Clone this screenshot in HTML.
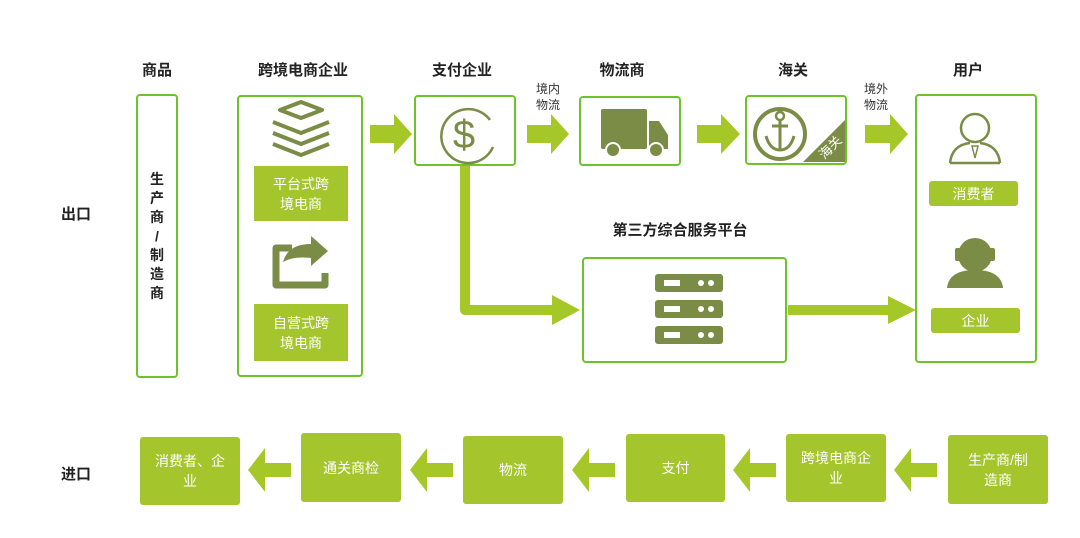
<!DOCTYPE html>
<html><head><meta charset="utf-8"><style>
*{margin:0;padding:0;box-sizing:border-box}
body{width:1080px;height:538px;background:#fff;position:relative;overflow:hidden;font-family:"Liberation Sans","Noto Sans CJK SC",sans-serif}
.t{position:absolute;font-weight:bold;font-size:15px;color:#222;transform:translateX(-50%);white-space:nowrap}
.b{position:absolute;border:2px solid #6cc42a;border-radius:4px;background:#fff}
.f{position:absolute;background:#a4c52c;color:#fff;font-size:14px;display:flex;align-items:center;justify-content:center;text-align:center;line-height:20px;border-radius:3px}
.s{position:absolute;font-size:12px;color:#333;line-height:16px}
svg{position:absolute;left:0;top:0}
</style></head><body>
<div class="t" style="left:157px;top:59px">商品</div>
<div class="t" style="left:303px;top:59px">跨境电商企业</div>
<div class="t" style="left:462px;top:59px">支付企业</div>
<div class="t" style="left:622px;top:59px">物流商</div>
<div class="t" style="left:793px;top:59px">海关</div>
<div class="t" style="left:968px;top:59px">用户</div>
<div class="t" style="left:680px;top:219px">第三方综合服务平台</div>
<div class="t" style="left:76px;top:203px">出口</div>
<div class="t" style="left:76px;top:463px">进口</div>
<div class="s" style="left:536px;top:81px">境内<br>物流</div>
<div class="s" style="left:864px;top:81px">境外<br>物流</div>

<div class="b" style="left:136px;top:94px;width:42px;height:284px"></div>
<div style="position:absolute;left:148px;top:170px;width:18px;font-size:14px;font-weight:bold;color:#222;text-align:center;line-height:19px">生<br>产<br>商<br>/<br>制<br>造<br>商</div>
<div class="b" style="left:237px;top:95px;width:126px;height:282px"></div>
<div class="b" style="left:414px;top:95px;width:102px;height:71px"></div>
<div class="b" style="left:579px;top:96px;width:102px;height:70px"></div>
<div class="b" style="left:745px;top:95px;width:102px;height:70px"></div>
<div class="b" style="left:915px;top:94px;width:122px;height:269px"></div>
<div class="b" style="left:582px;top:257px;width:205px;height:106px"></div>

<div class="f" style="left:254px;top:166px;width:94px;height:55px;border-radius:0">平台式跨<br>境电商</div>
<div class="f" style="left:254px;top:304px;width:94px;height:57px;border-radius:0">自营式跨<br>境电商</div>
<div class="f" style="left:929px;top:181px;width:89px;height:25px">消费者</div>
<div class="f" style="left:931px;top:308px;width:89px;height:25px">企业</div>

<div class="f" style="left:140px;top:437px;width:100px;height:68px">消费者、企<br>业</div>
<div class="f" style="left:301px;top:433px;width:100px;height:69px">通关商检</div>
<div class="f" style="left:463px;top:436px;width:100px;height:68px">物流</div>
<div class="f" style="left:626px;top:434px;width:99px;height:68px">支付</div>
<div class="f" style="left:786px;top:434px;width:100px;height:68px">跨境电商企<br>业</div>
<div class="f" style="left:948px;top:435px;width:100px;height:69px">生产商/制<br>造商</div>

<svg width="1080" height="538" viewBox="0 0 1080 538">
<g fill="#a5c828">
<polygon points="370,125 394,125 394,114 412,134 394,154 394,143 370,143"/>
<polygon points="527,125 551,125 551,114 569,134 551,154 551,143 527,143"/>
<polygon points="697,125 721,125 721,114 740,134 721,154 721,143 697,143"/>
<polygon points="865,125 890,125 890,114 908,134 890,154 890,143 865,143"/>
<path d="M460,166 h10 v139 h82 v-10 l28,15 -28,15 v-10 h-87 a5,5 0 0 1 -5,-5 z"/>
<polygon points="788,305 888,305 888,296 916,310 888,324 888,315 788,315"/>
<polygon points="291,463 265,463 265,448 248,470 265,492 265,477 291,477"/>
<polygon points="453,463 427,463 427,448 410,470 427,492 427,477 453,477"/>
<polygon points="615,463 589,463 589,448 572,470 589,492 589,477 615,477"/>
<polygon points="776,463 750,463 750,448 733,470 750,492 750,477 776,477"/>
<polygon points="937,463 911,463 911,448 894,470 911,492 911,477 937,477"/>
</g>
<g fill="none" stroke="#7a8c45" stroke-width="4" stroke-linejoin="round">
<polygon points="301,102 322,110 301,118 280,110"/>
<polyline points="273,122 301,133 329,122"/>
<polyline points="273,133 301,144 329,133"/>
<polyline points="273,144 301,155 329,144"/>
<path d="M292,248 h-16 v37 h49 v-12" stroke-width="7"/>
<path d="M493,147 A27,27 0 1 1 490,120" stroke-width="2.5"/>
<circle cx="780" cy="134" r="25" stroke-width="4"/>
<path d="M780,120 v30 M772,126 h16 M766,136 q4,14 14,14 q10,0 14,-14" stroke-width="3"/>
<circle cx="780" cy="116" r="4" stroke-width="2.5"/>
<circle cx="975" cy="128" r="14" stroke-width="2.5"/>
<path d="M950,163 q2,-18 20,-20 M1000,163 q-2,-18 -20,-20 M950,163 h50" stroke-width="2.5"/>
</g>
<text x="464" y="148" font-size="40" fill="#7a8c45" text-anchor="middle" font-family="Liberation Sans">$</text>
<path d="M283,262 q5,-18 28,-18 v-8 l17,15 -17,15 v-8 q-18,-2 -28,4z" fill="#7a8c45"/>
<g fill="#7a8c45">
<rect x="601" y="109" width="46" height="40" rx="2"/>
<path d="M649,121 h10 l9,14 v14 h-19z"/>
<circle cx="613" cy="150" r="7" stroke="#fff" stroke-width="2"/>
<circle cx="656" cy="150" r="7" stroke="#fff" stroke-width="2"/>
<polygon points="803,162 845,162 845,120"/>
<circle cx="975" cy="255" r="17"/>
<rect x="955" y="248" width="6" height="13" rx="2"/>
<rect x="989" y="248" width="6" height="13" rx="2"/>
<path d="M947,288 q2,-18 28,-18 q26,0 28,18z"/>
<rect x="655" y="274" width="68" height="18" rx="3"/>
<rect x="655" y="300" width="68" height="18" rx="3"/>
<rect x="655" y="326" width="68" height="18" rx="3"/>
</g>
<g fill="#fff">
<rect x="664" y="280" width="16" height="6"/><rect x="664" y="306" width="16" height="6"/><rect x="664" y="332" width="16" height="6"/>
<circle cx="701" cy="283" r="3"/><circle cx="711" cy="283" r="3"/>
<circle cx="701" cy="309" r="3"/><circle cx="711" cy="309" r="3"/>
<circle cx="701" cy="335" r="3"/><circle cx="711" cy="335" r="3"/>
</g>
<text x="830" y="152" font-size="13" fill="#fff" text-anchor="middle" transform="rotate(-45 830 147)" font-family="Liberation Sans, Noto Sans CJK SC, sans-serif">海关</text>
<path d="M972,146 l3,12 3,-12z" fill="none" stroke="#7a8c45" stroke-width="1.5"/>
</svg>
</body></html>
